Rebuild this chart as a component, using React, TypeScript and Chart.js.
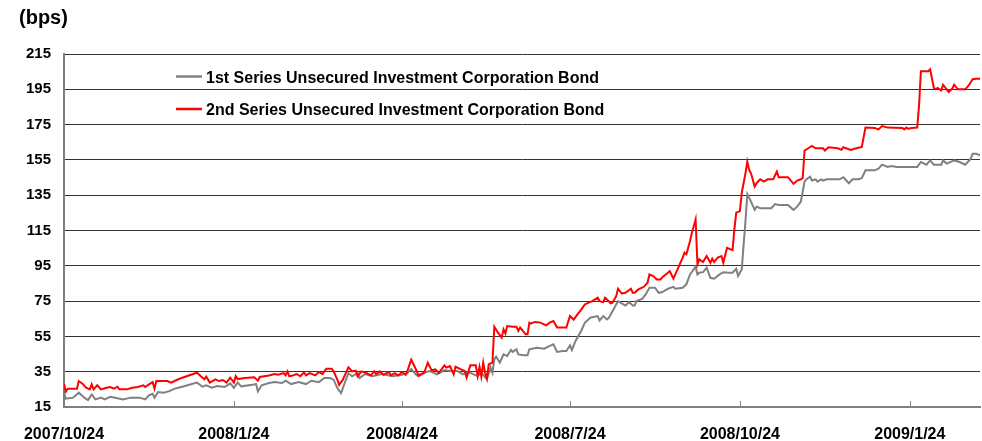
import React, { useEffect, useRef } from "react";
import { Chart, registerables } from "chart.js";

Chart.register(...registerables);

const yAxisTitle = "(bps)";
const seriesNames = [
  "1st Series Unsecured Investment Corporation Bond",
  "2nd Series Unsecured Investment Corporation Bond",
];
const seriesColors = ["#808080", "#FF0000"];

// days counted from 2007/10/24
const tickDays = [0, 92, 183, 274, 366, 458];
const tickLabels = ["2007/10/24", "2008/1/24", "2008/4/24", "2008/7/24", "2008/10/24", "2009/1/24"];
const yTicks = [15, 35, 55, 75, 95, 115, 135, 155, 175, 195, 215];
const xMaxDay = 496;

// 1st Series (gray)
const firstDays = [
  0, 1, 5, 8, 11, 13, 15, 17, 20, 22, 25, 29, 32, 36, 41, 44, 46, 48, 49, 51, 54, 57, 60, 64, 72, 75, 77, 80, 83, 87,
  90, 92, 94, 96, 102, 104, 105, 107, 111, 114, 118, 120, 123, 127, 131, 134, 138, 141, 144, 146, 148, 150, 152, 154,
  156, 159, 160, 163, 167, 172, 178, 183, 186, 188, 191, 195, 198, 202, 206, 209, 213, 216, 219, 224, 226, 229, 231,
  232, 233, 234, 236, 238, 240, 242, 243, 245, 246, 249, 251, 252, 256, 260, 263, 265, 267, 270, 272, 274, 275, 277,
  280, 282, 285, 289, 290, 292, 294, 295, 297, 299, 300, 302, 304, 306, 308, 309, 310, 313, 315, 317, 320, 322, 324,
  327, 330, 331, 335, 337, 339, 342, 343, 344, 346, 348, 350, 352, 355, 357, 360, 362, 364, 365, 367, 368, 369, 370,
  372, 374, 375, 377, 380, 383, 385, 387, 392, 395, 397, 399, 401, 402, 404, 405, 407, 408, 410, 411, 413, 418, 420,
  422, 425, 427, 430, 432, 434, 439, 441, 443, 446, 448, 451, 456, 462, 464, 467, 469, 471, 475, 476, 478, 482, 485,
  488, 491, 492, 494, 496,
];
const firstValues = [
  23.1, 19.7, 20.3, 23.1, 20.3, 18.9, 22.1, 19.3, 20.3, 19.3, 20.8, 19.9, 19.3, 20.3, 20.3, 19.3, 21.6, 22.5, 20.3,
  23.5, 23.1, 24.0, 25.4, 26.5, 28.8, 26.5, 27.3, 25.9, 26.9, 26.3, 28.4, 25.9, 28.8, 26.7, 27.6, 28.0, 23.8, 27.3,
  28.6, 29.1, 28.6, 29.9, 28.0, 29.1, 28.0, 29.9, 29.1, 31.4, 31.4, 30.5, 25.7, 22.9, 28.6, 34.2, 32.4, 34.2, 31.4,
  33.7, 32.4, 33.7, 32.4, 33.3, 34.2, 36.5, 32.9, 34.4, 35.4, 33.5, 35.9, 35.4, 35.4, 33.5, 34.8, 32.5, 34.4, 30.7,
  37.3, 34.4, 42.0, 43.5, 40.1, 44.8, 43.9, 47.3, 46.2, 47.7, 44.8, 44.3, 44.3, 47.7, 48.6, 48.0, 49.6, 50.5, 46.2,
  46.7, 46.7, 49.9, 47.3, 52.4, 58.1, 62.7, 65.6, 66.5, 64.0, 66.5, 64.6, 65.5, 69.3, 73.1, 75.0, 73.7, 72.5, 74.4,
  72.5, 72.5, 75.0, 76.3, 78.8, 82.6, 82.6, 79.7, 80.1, 82.0, 83.1, 82.0, 82.6, 84.5, 90.1, 94.5, 90.1, 91.1, 91.4,
  93.9, 88.2, 87.7, 90.1, 91.4, 91.1, 91.1, 93.3, 89.2, 93.0, 107.0, 120.0, 135.7, 131.4, 126.7, 128.5, 127.6, 127.6,
  127.6, 130.0, 129.5, 129.5, 126.7, 128.5, 131.4, 142.7, 144.0, 145.5, 143.3, 144.0, 142.7, 144.0, 143.3, 144.0,
  144.0, 144.0, 145.2, 141.8, 144.0, 144.0, 144.7, 149.1, 149.1, 150.0, 152.3, 151.0, 151.5, 151.0, 151.0, 151.0,
  153.8, 152.3, 154.7, 152.3, 152.3, 154.7, 152.9, 154.7, 153.8, 152.3, 155.7, 158.5, 158.5, 157.6,
];

// 2nd Series (red)
const secondDays = [
  0, 1, 2, 7, 8, 10, 12, 14, 15, 16, 18, 20, 23, 25, 27, 29, 30, 34, 37, 40, 43, 44, 46, 48, 49, 50, 56, 58, 61, 64,
  72, 74, 76, 77, 79, 82, 84, 86, 88, 90, 92, 93, 94, 98, 103, 105, 106, 111, 114, 116, 119, 120, 121, 122, 124, 126,
  128, 130, 131, 133, 136, 138, 140, 141, 142, 145, 146, 148, 149, 151, 154, 156, 158, 159, 161, 164, 166, 168, 169,
  171, 173, 176, 177, 179, 181, 183, 185, 186, 188, 191, 192, 195, 197, 199, 201, 203, 206, 207, 209, 211, 212, 215,
  217, 218, 220, 223, 224, 225, 226, 227, 228, 229, 230, 232, 233, 235, 237, 238, 239, 240, 243, 245, 246, 247, 250,
  251, 252, 253, 255, 258, 261, 263, 265, 267, 272, 274, 276, 278, 280, 282, 286, 289, 290, 292, 293, 295, 296, 297,
  299, 300, 302, 304, 307, 308, 309, 311, 314, 316, 317, 319, 321, 323, 324, 327, 328, 330, 331, 333, 335, 336, 337,
  339, 340, 342, 343, 344, 346, 348, 350, 351, 352, 354, 356, 357, 359, 362, 363, 364, 366, 367, 369, 370, 371, 372,
  374, 375, 377, 379, 381, 384, 386, 387, 392, 395, 397, 399, 400, 401, 403, 405, 407, 411, 412, 414, 419, 421, 422,
  426, 429, 432, 434, 439, 441, 443, 446, 454, 455, 456, 457, 459, 462, 463, 464, 468, 469, 471, 472, 473, 475, 476,
  477, 479, 481, 482, 484, 488, 490, 492, 494, 496,
];
const secondValues = [
  28.0, 23.8, 25.4, 25.4, 29.7, 28.2, 25.9, 25.0, 27.8, 25.0, 27.3, 25.0, 25.9, 26.3, 25.4, 26.5, 25.0, 25.0, 25.9,
  26.3, 27.3, 26.3, 27.8, 29.1, 25.4, 29.7, 29.7, 28.8, 30.3, 31.6, 34.4, 32.5, 30.7, 32.2, 28.8, 30.7, 29.7, 30.3,
  28.8, 31.6, 28.8, 32.5, 30.8, 31.4, 31.8, 29.9, 32.0, 32.9, 33.7, 33.3, 34.2, 32.9, 35.2, 32.4, 32.9, 33.7, 32.4,
  34.6, 32.9, 34.2, 32.9, 34.8, 33.7, 35.2, 36.7, 36.7, 35.2, 30.5, 27.6, 30.5, 37.5, 35.2, 35.6, 32.4, 35.2, 34.2,
  32.9, 35.2, 33.7, 35.2, 33.3, 34.8, 32.9, 34.2, 32.9, 34.8, 33.3, 35.6, 41.8, 35.4, 32.5, 34.4, 40.1, 35.9, 36.3,
  34.4, 38.6, 37.3, 38.2, 33.5, 37.8, 36.3, 35.4, 31.6, 38.6, 38.6, 32.5, 37.8, 32.2, 40.1, 34.4, 31.0, 39.2, 40.1,
  60.5, 57.1, 54.3, 59.0, 56.7, 60.9, 60.5, 60.5, 58.1, 60.0, 56.2, 56.2, 62.8, 62.4, 63.2, 62.8, 61.3, 62.8, 63.7,
  60.0, 60.0, 66.6, 64.5, 67.5, 70.0, 73.1, 75.0, 76.9, 75.0, 74.4, 76.9, 75.0, 73.7, 74.1, 77.8, 82.0, 79.3, 79.7,
  82.0, 79.7, 79.7, 81.6, 83.1, 85.4, 90.1, 89.2, 87.3, 87.3, 88.6, 91.1, 92.0, 87.7, 90.1, 94.8, 99.6, 102.4, 101.5,
  109.0, 113.7, 121.3, 95.8, 98.6, 97.1, 100.5, 96.7, 99.0, 97.1, 99.6, 100.5, 96.7, 105.2, 103.9, 115.6, 125.1,
  126.0, 136.4, 147.4, 154.0, 149.3, 147.4, 139.9, 141.8, 144.0, 142.7, 144.0, 144.0, 148.4, 145.2, 145.2, 141.4,
  143.3, 144.0, 144.6, 160.3, 161.6, 162.9, 161.6, 161.6, 160.3, 162.2, 161.6, 160.7, 162.2, 160.7, 161.6, 162.3,
  173.3, 173.1, 172.3, 174.2, 173.3, 173.1, 172.3, 173.3, 172.7, 173.1, 173.3, 185.9, 205.2, 205.2, 206.3, 195.8,
  195.0, 195.8, 194.4, 197.6, 196.3, 193.5, 195.4, 197.6, 195.0, 195.0, 197.3, 200.7, 201.0, 201.0,
];

const FONT = "Arial, 'Liberation Sans', Helvetica, sans-serif";

const toPoints = (days: number[], vals: number[]) => days.map((d, i) => ({ x: d, y: vals[i] }));

const overlayPlugin = {
  id: "overlayPlugin",
  afterDraw(chart: any) {
    const { ctx, chartArea, scales } = chart;
    ctx.save();
    // inside tick marks on the date axis
    ctx.strokeStyle = "#808080";
    ctx.lineWidth = 1;
    tickDays.forEach((d) => {
      const x = Math.round(scales.x.getPixelForValue(d)) + 0.5;
      ctx.beginPath();
      ctx.moveTo(x, chartArea.bottom);
      ctx.lineTo(x, chartArea.bottom - 6);
      ctx.stroke();
    });
    // unit title
    ctx.fillStyle = "#000";
    ctx.textAlign = "left";
    ctx.textBaseline = "alphabetic";
    ctx.font = `bold 20px ${FONT}`;
    ctx.fillText(yAxisTitle, 19, 24);
    // legend
    ctx.font = `bold 16px ${FONT}`;
    const rows = [
      { lineY: 76.5, textY: 82.5 },
      { lineY: 109, textY: 115 },
    ];
    seriesNames.forEach((name, i) => {
      ctx.strokeStyle = seriesColors[i];
      ctx.lineWidth = 2.5;
      ctx.beginPath();
      ctx.moveTo(176, rows[i].lineY);
      ctx.lineTo(202, rows[i].lineY);
      ctx.stroke();
      ctx.fillStyle = "#000";
      ctx.fillText(name, 206, rows[i].textY);
    });
    ctx.restore();
  },
};

export default function App() {
  const canvasRef = useRef<HTMLCanvasElement | null>(null);

  useEffect(() => {
    const canvas = canvasRef.current;
    if (!canvas) return;
    const chart = new Chart(canvas, {
      type: "line",
      data: {
        datasets: [
          {
            label: seriesNames[1],
            data: toPoints(secondDays, secondValues),
            borderColor: seriesColors[1],
            backgroundColor: seriesColors[1],
            borderWidth: 2,
            pointRadius: 0,
            tension: 0,
            order: 0,
          },
          {
            label: seriesNames[0],
            data: toPoints(firstDays, firstValues),
            borderColor: seriesColors[0],
            backgroundColor: seriesColors[0],
            borderWidth: 2,
            pointRadius: 0,
            tension: 0,
            order: 1,
          },
        ],
      },
      options: {
        animation: false,
        responsive: true,
        maintainAspectRatio: false,
        layout: { padding: { left: 0, right: 2, top: 54, bottom: 0 } },
        plugins: {
          legend: { display: false },
          tooltip: { enabled: false },
          title: { display: false },
        },
        scales: {
          x: {
            type: "linear",
            min: 0,
            max: xMaxDay,
            afterBuildTicks: (s: any) => {
              s.ticks = tickDays.map((v) => ({ value: v }));
            },
            afterFit: (s: any) => {
              s.height = 34;
            },
            grid: { display: false, drawTicks: false },
            border: { display: true, color: "#808080", width: 2 },
            ticks: {
              autoSkip: false,
              maxRotation: 0,
              minRotation: 0,
              padding: 18,
              color: "#000",
              font: { family: FONT, size: 16, weight: "bold" },
              callback: (v: any) => {
                const i = tickDays.indexOf(Number(v));
                return i >= 0 ? tickLabels[i] : "";
              },
            },
          },
          y: {
            type: "linear",
            min: 15,
            max: 215,
            afterBuildTicks: (s: any) => {
              s.ticks = yTicks.map((v) => ({ value: v }));
            },
            afterFit: (s: any) => {
              s.width = 64;
            },
            grid: { color: "#333333", lineWidth: 1, drawTicks: false },
            border: { display: true, color: "#808080", width: 2 },
            ticks: {
              padding: 13,
              color: "#000",
              font: { family: FONT, size: 15, weight: "bold" },
              callback: (v: any) => String(v),
            },
          },
        },
      },
      plugins: [overlayPlugin],
    });
    return () => chart.destroy();
  }, []);

  return (
    <div style={{ position: "fixed", left: 0, top: 0, width: 982, height: 441, background: "#fff" }}>
      <canvas ref={canvasRef} />
    </div>
  );
}
